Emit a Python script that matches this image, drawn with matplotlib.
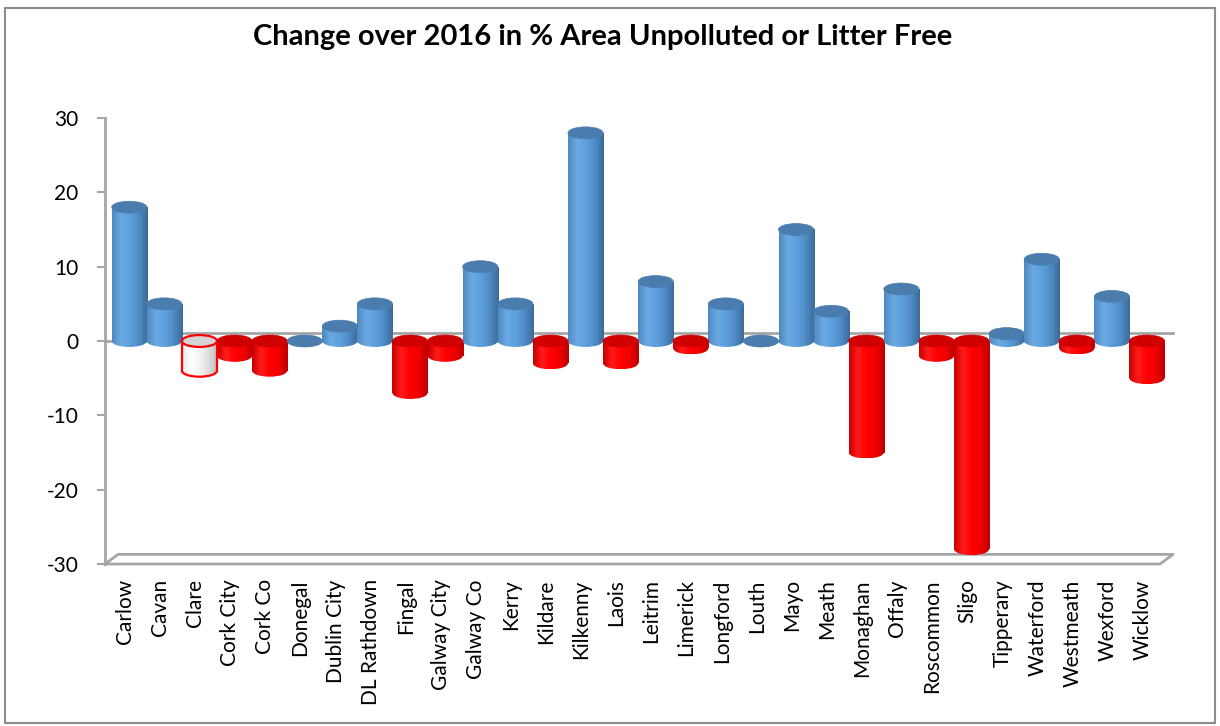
import numpy as np
import matplotlib.pyplot as plt
from matplotlib.patches import Rectangle, Ellipse, Arc
from matplotlib.colors import LinearSegmentedColormap

counties = ["Carlow", "Cavan", "Clare", "Cork City", "Cork Co", "Donegal",
            "Dublin City", "DL Rathdown", "Fingal", "Galway City", "Galway Co",
            "Kerry", "Kildare", "Kilkenny", "Laois", "Leitrim", "Limerick",
            "Longford", "Louth", "Mayo", "Meath", "Monaghan", "Offaly",
            "Roscommon", "Sligo", "Tipperary", "Waterford", "Westmeath",
            "Wexford", "Wicklow"]
change = [18, 5, -4, -2, -4, 0, 2, 5, -7, -2, 10, 5, -3, 28, -3, 8, -1, 5, 0,
          15, 4, -15, 7, -2, -28, 1, 11, -1, 6, -5]
# Clare is drawn hollow (white with red outline)
hollow = ["Clare"]

plt.rcParams['font.family'] = ['Lato', 'DejaVu Sans']
plt.rcParams['axes.unicode_minus'] = False

blue_body = LinearSegmentedColormap.from_list(
    "blue_body", ["#4f88bf", "#6aa9e3", "#5d9fdc", "#4f8cc6", "#3b6a98"])
red_body = LinearSegmentedColormap.from_list(
    "red_body", ["#c80000", "#ff1a1a", "#ff0000", "#f00000", "#b80000"])
white_body = LinearSegmentedColormap.from_list(
    "white_body", ["#e6e6e6", "#ffffff", "#f4f4f4", "#dcdcdc", "#bdbdbd"])

grey = "#a6a6a6"
bar_w = 1.0
cap_h = 1.6
shift = 0.12
depth_x, depth_y = 0.37, 1.3
x_lo, x_hi = -0.57, 29.49     # extent of the floor / zero plane
x_max = 29.75                 # axes limit, leaves room for the last cylinder
y_lo, y_hi = -30, 30

fig = plt.figure(figsize=(12.2, 7.26), dpi=100)
ax = fig.add_axes([0.0861, 0.2231, 0.8722, 0.6144])

grad = np.linspace(0, 1, 128).reshape(1, -1)


def cylinder(x, v, name):
    lo, hi = min(0, v), max(0, v)
    if name in hollow:
        cmap, cap, edge = white_body, "#d4d4d4", "#ff0000"
    elif v < 0:
        cmap, cap, edge = red_body, "#cf0000", None
    else:
        cmap, cap, edge = blue_body, "#4a7cae", None
    left = x - bar_w / 2
    ext = (left, left + bar_w, lo - cap_h / 2, hi)
    body = Rectangle((left, lo), bar_w, hi - lo, transform=ax.transData)
    end = Ellipse((x, lo), bar_w, cap_h, transform=ax.transData)
    for clip in (body, end):
        im = ax.imshow(grad, cmap=cmap, extent=ext, aspect="auto",
                       interpolation="bilinear", zorder=3)
        im.set_clip_path(clip)
    if edge:
        ax.add_patch(Arc((x, lo), bar_w, cap_h, theta1=180, theta2=360,
                         ec=edge, lw=1.6, zorder=4))
        ax.plot([left, left], [lo, hi], color=edge, lw=1.6, zorder=4)
        ax.plot([left + bar_w, left + bar_w], [lo, hi], color=edge, lw=1.6,
                zorder=4)
    ax.add_patch(Ellipse((x, hi), bar_w, cap_h, fc=cap,
                         ec=edge if edge else cap, lw=1.6 if edge else 0.5,
                         zorder=5))


xs = np.arange(len(counties))

# zero plane, drawn behind and in front of the cylinders
ax.plot([x_lo + depth_x, x_hi + depth_x], [depth_y * 0.8, depth_y * 0.8],
        color=grey, lw=2, zorder=2, clip_on=False)
for x, v, name in zip(xs, change, counties):
    cylinder(x + shift, v, name)
ax.plot([x_lo, x_hi], [0, 0], color=grey, lw=2, zorder=2.5, clip_on=False)

# floor
ax.plot([x_lo, x_hi, x_hi + depth_x, x_lo + depth_x, x_lo],
        [y_lo, y_lo, y_lo + depth_y, y_lo + depth_y, y_lo],
        color=grey, lw=2, zorder=1, clip_on=False)

ax.set_xlim(x_lo, x_max)
ax.set_ylim(y_lo, y_hi)
ax.set_yticks(np.arange(-30, 31, 10))
ax.set_xticks(xs)
ax.set_xticklabels(counties, rotation=90, fontsize=15)
ax.tick_params(axis="x", length=0, pad=11)
ax.tick_params(axis="y", length=6, width=1.5, color=grey, pad=13,
               labelsize=15)
for side in ("top", "right", "bottom"):
    ax.spines[side].set_visible(False)
ax.spines["left"].set_color(grey)
ax.spines["left"].set_linewidth(2)

fig.text(0.494, 0.949, "Change over 2016 in % Area Unpolluted or Litter Free",
         ha="center", va="center", fontsize=21, fontweight="bold")

fig.patches.append(Rectangle((0.004, 0.004), 0.992, 0.985, fill=False,
                             ec="#8c8c8c", lw=1.5, transform=fig.transFigure))

fig.savefig("out.png", dpi=100)
